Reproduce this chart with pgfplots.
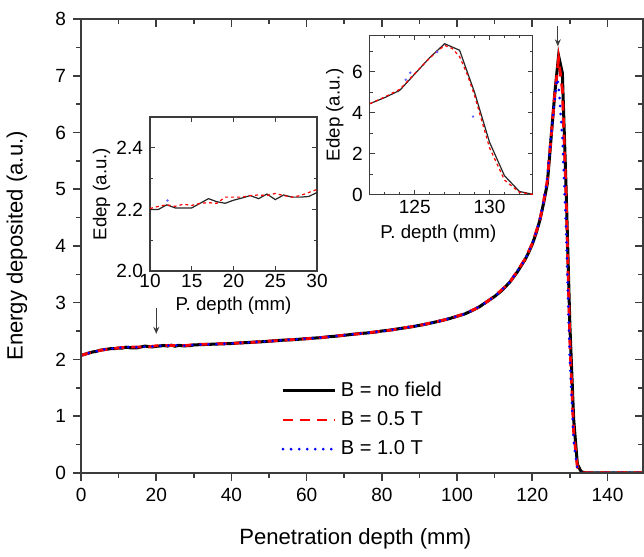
\documentclass[border=0pt]{standalone}
\usepackage{pgfplots}
\pgfplotsset{compat=1.18}
\usepackage{fontspec}
\setmainfont{Liberation Sans}
\usetikzlibrary{arrows.meta}

\definecolor{axgray}{RGB}{60,60,60}

\begin{document}
\begin{tikzpicture}
% main axis: ticks out on left/bottom
\begin{axis}[name=main, scale only axis, width=280pt, height=226pt,
  xmin=0, xmax=149.5, ymin=0, ymax=8,
  xtick={0,20,...,140}, minor xtick={10,30,...,130},
  ytick={0,1,...,8}, minor ytick={0.5,1.5,...,7.5},
  xtick pos=left, ytick pos=left, tick align=outside,
  major tick length=4pt, minor tick length=2.5pt,
  tick style={axgray, line width=0.8pt},
  axis line style={axgray, line width=0.8pt},
  /pgf/number format/assume math mode=true,
  tick label style={font=\fontsize{9.5}{11}\selectfont},
  xlabel={Penetration depth (mm)}, ylabel={Energy deposited (a.u.)},
  label style={font=\fontsize{11}{13}\selectfont},
  x label style={at={(axis description cs:0.488,-0.146)}, anchor=center},
  y label style={at={(axis description cs:-0.114,0.5)}, anchor=center},
  legend style={draw=none, fill=none, inner sep=0pt, row sep=2pt,
    at={(axis description cs:0.356,0.21)}, anchor=north west,
    font=\fontsize{10}{12}\selectfont},
  legend cell align=left,
  legend image code/.code={\draw[#1] (0pt,0pt) -- (26pt,0pt);},
]
\addplot[black, line width=1.5pt] coordinates {
(0,2.07)(1,2.09)(2,2.11)(3,2.13)(4,2.14)(5,2.16)(6,2.17)(7,2.18)(8,2.19)(9,2.19)
(10,2.20)(11,2.20)(12,2.215)(13,2.205)(14,2.205)(15,2.205)(16,2.22)(17,2.235)(18,2.225)(19,2.22)
(20,2.23)(21,2.237)(22,2.245)(23,2.235)(24,2.25)(25,2.232)(26,2.247)(27,2.24)(28,2.24)(29,2.242)
(30,2.255)(32,2.26)(34,2.265)(36,2.27)(38,2.275)(40,2.28)(42,2.29)(44,2.295)(46,2.305)(48,2.31)
(50,2.32)(52,2.33)(54,2.34)(56,2.345)(58,2.355)(60,2.365)(62,2.375)(64,2.385)(66,2.40)(68,2.41)
(70,2.425)(72,2.44)(74,2.455)(76,2.465)(78,2.48)(80,2.50)(82,2.515)(84,2.535)(86,2.555)(88,2.575)
(90,2.60)(92,2.625)(94,2.655)(96,2.685)(98,2.72)(100,2.76)(102,2.80)(104,2.86)(106,2.93)(108,3.02)
(110,3.11)(112,3.22)(114,3.36)(116,3.54)(118,3.75)(119,3.88)(120,4.03)(121,4.22)(122,4.45)(123,4.75)
(124,5.1)(125,5.9)(126,6.7)(127,7.35)(128,7.05)(129,5.0)(130,2.6)(131,0.95)(132,0.15)(133,0.02)
(134,0)(150,0)};
\addlegendentry{B = no field}
\addplot[red, line width=1.4pt, dash pattern=on 5pt off 3.5pt] coordinates {
(0,2.07)(2,2.11)(4,2.145)(6,2.17)(8,2.185)(10,2.203)(12,2.215)(14,2.217)(16,2.22)(18,2.22)
(20,2.24)(22,2.245)(24,2.245)(26,2.245)(28,2.245)(30,2.262)(34,2.268)(38,2.278)(42,2.288)(46,2.303)
(50,2.322)(54,2.338)(58,2.357)(62,2.373)(66,2.398)(70,2.427)(74,2.452)(78,2.482)(82,2.512)(86,2.557)
(90,2.598)(94,2.657)(98,2.718)(102,2.805)(106,2.925)(110,3.115)(114,3.355)(118,3.76)(120,4.04)(122,4.45)
(123,4.78)(124,5.15)(125,5.92)(126,6.68)(127,7.3)(128,6.75)(129,4.85)(130,2.3)(131,0.72)(132,0.1)
(133,0)(150,0)};
\addlegendentry{B = 0.5 T}
\addplot[blue, line width=1.5pt, line cap=round, dash pattern=on 0pt off 4pt] coordinates {
(0,2.07)(2,2.11)(4,2.14)(6,2.175)(8,2.19)(10,2.20)(12,2.22)(14,2.21)(16,2.22)(18,2.225)
(20,2.23)(22,2.24)(24,2.25)(26,2.245)(28,2.24)(30,2.255)(34,2.265)(38,2.275)(42,2.29)(46,2.305)
(50,2.32)(54,2.34)(58,2.355)(62,2.375)(66,2.40)(70,2.425)(74,2.455)(78,2.48)(82,2.515)(86,2.555)
(90,2.60)(94,2.655)(98,2.72)(102,2.80)(106,2.93)(110,3.11)(114,3.36)(118,3.75)(120,4.03)(122,4.45)
(123,4.78)(124,5.2)(125,5.95)(126,6.6)(126.5,6.95)(127,6.85)(128,5.9)(129,4.3)(130,2.0)(131,0.55)
(132,0.07)(133,0)(150,0)};
\addlegendentry{B = 1.0 T}
\draw[axgray, line width=0.5pt, -{Stealth[length=3.5pt,width=3pt]}] (axis cs:20,2.9) -- (axis cs:20,2.45);
\draw[axgray, line width=0.5pt, -{Stealth[length=3.5pt,width=3pt]}] (axis cs:126.8,7.88) -- (axis cs:126.8,7.52);
\end{axis}
% mirrored ticks pointing in on top/right
\begin{scope}[overlay]
\begin{axis}[scale only axis, width=280pt, height=226pt,
  xmin=0, xmax=149.5, ymin=0, ymax=8,
  xtick={0,20,...,140}, minor xtick={10,30,...,130},
  ytick={0,1,...,8}, minor ytick={0.5,1.5,...,7.5},
  xtick pos=right, ytick pos=right, tick align=inside,
  xticklabels={}, yticklabels={},
  major tick length=4pt, minor tick length=2.5pt,
  tick style={axgray, line width=0.8pt},
  axis line style={axgray, line width=0.8pt}]
\end{axis}
\end{scope}
% room above the axis as in the reference
\path (0pt,235.5pt);
% inset 1
\begin{axis}[at={(34.35pt,100.5pt)}, anchor=south west, scale only axis,
  width=83.2pt, height=76.7pt,
  xmin=10, xmax=30, ymin=2.0, ymax=2.5,
  xtick={10,15,...,30}, ytick={2.0,2.2,2.4}, minor ytick={2.1,2.3},
  tick align=inside, major tick length=2.5pt, minor tick length=1.5pt,
  tick style={axgray, line width=0.5pt},
  axis line style={axgray, line width=0.6pt},
  /pgf/number format/assume math mode=true,
  yticklabel style={/pgf/number format/.cd, fixed, fixed zerofill, precision=1},
  tick label style={font=\fontsize{9.5}{11}\selectfont},
  xticklabel style={yshift=2pt},
  xlabel={P. depth (mm)}, ylabel={Edep (a.u.)},
  label style={font=\fontsize{9.3}{11}\selectfont},
  x label style={at={(axis description cs:0.5,-0.228)}, anchor=center},
  y label style={at={(axis description cs:-0.29,0.5)}, anchor=center},
]
\addplot[black!85, line width=0.6pt] coordinates {
(10,2.2)(11,2.2)(12,2.215)(13,2.205)(14,2.205)(15,2.205)(16,2.22)(17,2.235)(18,2.225)(19,2.22)
(20,2.23)(21,2.237)(22,2.245)(23,2.235)(24,2.25)(25,2.232)(26,2.247)(27,2.24)(28,2.24)(29,2.242)(30,2.255)};
\addplot[red, line width=0.6pt, dash pattern=on 1.5pt off 1.5pt] coordinates {
(10,2.203)(11,2.21)(12,2.215)(13,2.21)(14,2.217)(15,2.213)(16,2.22)(17,2.222)(18,2.22)(19,2.24)
(20,2.24)(21,2.24)(22,2.245)(23,2.247)(24,2.245)(25,2.252)(26,2.245)(27,2.24)(28,2.245)(29,2.255)(30,2.265)};
\addplot[only marks, mark=*, mark size=0.4pt, blue!60] coordinates {(12.1,2.229)};
\end{axis}
% inset 2
\begin{axis}[at={(143.85pt,138.5pt)}, anchor=south west, scale only axis,
  width=81.2pt, height=79.5pt,
  xmin=122, xmax=132.9, ymin=0, ymax=7.8,
  xtick={125,130}, minor xtick={123,124,126,127,128,129,131,132},
  ytick={0,2,4,6}, minor ytick={1,3,5,7},
  tick align=inside, major tick length=2.5pt, minor tick length=1.5pt,
  tick style={axgray, line width=0.5pt},
  axis line style={axgray, line width=0.6pt},
  /pgf/number format/assume math mode=true,
  tick label style={font=\fontsize{9.5}{11}\selectfont},
  xticklabel style={yshift=1pt},
  xlabel={P. depth (mm)}, ylabel={Edep (a.u.)},
  label style={font=\fontsize{9.3}{11}\selectfont},
  x label style={at={(axis description cs:0.42,-0.245)}, anchor=center},
  y label style={at={(axis description cs:-0.215,0.5)}, anchor=center},
]
\addplot[black!85, line width=0.6pt] coordinates {
(122,4.45)(123,4.75)(124,5.1)(125,5.9)(126,6.7)(127,7.38)(128,7.06)(129,5.0)(130,2.57)(131,0.93)(132,0.16)(132.9,0.02)};
\addplot[red, line width=0.6pt, dash pattern=on 1.5pt off 1.5pt] coordinates {
(122,4.45)(123,4.78)(124,5.15)(125,5.92)(126,6.68)(126.5,7.0)(127,7.3)(127.5,7.15)(128,6.75)(128.5,5.9)(129,4.85)(130,2.3)(131,0.72)(132,0.12)(132.9,0.02)};
\addplot[only marks, mark=*, mark size=0.4pt, blue!60] coordinates {
(124.4,5.62)(124.7,5.96)(126.5,6.98)(128.9,3.82)};
\end{axis}
\end{tikzpicture}
\end{document}
